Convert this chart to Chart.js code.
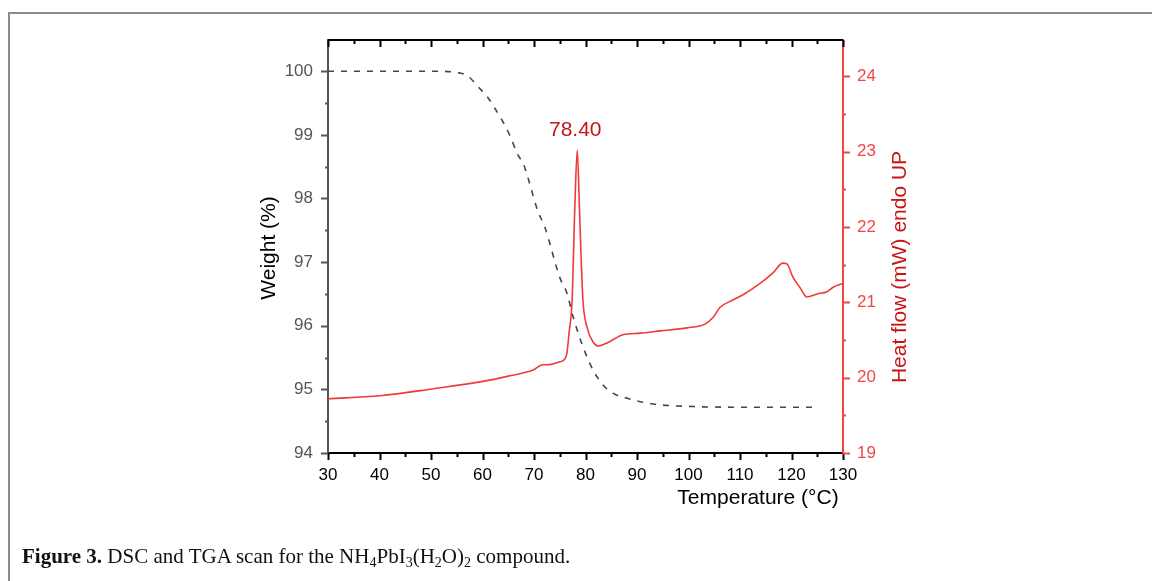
<!DOCTYPE html>
<html lang="en">
<head>
  <meta charset="UTF-8">
  <title>DSC and TGA scan</title>
  <script src="https://cdn.jsdelivr.net/npm/chart.js"></script>
  <style>
    body {
      margin: 0;
      background: white;
      overflow: hidden;
    }
    #wrap {
      position: relative;
      width: 1152px;
      height: 581px;
    }
    #frame {
      position: absolute;
      left: 8px;
      top: 12px;
      width: 1300px;
      height: 700px;
      border-left: 2px solid #8c8c8c;
      border-top: 2px solid #8c8c8c;
    }
    canvas {
      position: absolute;
      left: 0;
      top: 0;
    }
    #caption {
      position: absolute;
      left: 22px;
      top: 543px;
      font-family: "Liberation Serif", "Times New Roman", serif;
      font-size: 21px;
      line-height: 26px;
      color: #111;
      white-space: nowrap;
    }
    #caption sub {
      font-size: 14px;
      vertical-align: -4px;
      line-height: 0;
    }
  </style>
</head>
<body>

<div id="wrap">
  <div id="frame"></div>
  <canvas id="dscChart" width="1152" height="581"></canvas>
  <div id="caption"><b>Figure 3.</b> DSC and TGA scan for the NH<sub>4</sub>PbI<sub>3</sub>(H<sub>2</sub>O)<sub>2</sub> compound.</div>
</div>

<script>
  // TGA weight curve (dashed, left axis)
  const tgaTemp   = [30, 40, 50, 55.0, 57.2, 59.1, 61.1, 62.6, 64.0, 65.3, 66.9, 67.9, 70.8, 72.1, 75.0, 76.4, 77.6, 79.5, 81.5, 83.4, 85.3, 88.1, 93.1, 100.9, 110, 125.1];
  const tgaWeight = [100, 100, 100, 99.98, 99.92, 99.76, 99.58, 99.39, 99.20, 98.99, 98.68, 98.55, 97.79, 97.55, 96.76, 96.51, 96.14, 95.67, 95.30, 95.07, 94.94, 94.86, 94.77, 94.73, 94.72, 94.72];

  // DSC heat flow curve (red, right axis)
  const dscTemp = [30, 40.1, 50.2, 60.1, 65.0, 69.8, 71.7, 72.5, 75.0, 76.0, 76.4, 76.8, 77.4, 77.9, 78.4, 78.8, 79.1, 79.5, 80.3, 81.5, 82.5, 84.2, 87.3, 90.6, 94.5, 99.7, 103.2, 104.8, 106.1, 108.6, 110.6, 113.9, 116.4, 118.3, 119.1, 120.3, 121.7, 123.0, 125.0, 126.9, 128.1, 130];
  const dscHeat = [19.72, 19.76, 19.85, 19.95, 20.02, 20.10, 20.17, 20.17, 20.21, 20.25, 20.33, 20.59, 21.03, 22.2, 23.02, 22.3, 21.69, 21.03, 20.67, 20.47, 20.42, 20.46, 20.57, 20.59, 20.62, 20.66, 20.71, 20.80, 20.93, 21.03, 21.10, 21.25, 21.39, 21.52, 21.51, 21.33, 21.19, 21.07, 21.11, 21.14, 21.20, 21.25];

  // ticks
  const tempTicks   = [30, 40, 50, 60, 70, 80, 90, 100, 110, 120, 130];
  const weightTicks = [94, 95, 96, 97, 98, 99, 100];
  const heatTicks   = [19, 20, 21, 22, 23, 24];

  const peakTemp = 78.4;
  const peakHeat = 23.02;
  const peakLabel = "78.40";

  const redLine = "#f03a3a";
  const redTick = "#f04646";
  const darkRed = "#c81414";

  function toPoints(xs, ys) {
    return xs.map((x, i) => ({ x: x, y: ys[i] }));
  }

  function fixedTicks(list) {
    return function (scale) {
      scale.ticks = list.map(v => ({ value: v }));
    };
  }

  // minor/major tick marks, top frame line, titles and peak label
  const decorPlugin = {
    id: "decor",
    afterDraw(chart) {
      const ctx = chart.ctx;
      const area = chart.chartArea;
      const sx = chart.scales.x;
      const sl = chart.scales.y;
      const sr = chart.scales.y1;
      ctx.save();

      // top axis line
      ctx.strokeStyle = "#000";
      ctx.lineWidth = 2;
      ctx.beginPath();
      ctx.moveTo(area.left, area.top);
      ctx.lineTo(area.right, area.top);
      ctx.stroke();

      // x ticks: bottom outward, top inward
      for (let t = 30; t <= 130; t += 5) {
        const px = Math.round(sx.getPixelForValue(t)) + 0.5;
        const len = (t % 10 === 0) ? 7 : 4;
        ctx.lineWidth = 2;
        ctx.strokeStyle = "#000";
        ctx.beginPath();
        ctx.moveTo(px, area.bottom);
        ctx.lineTo(px, area.bottom + len);
        ctx.moveTo(px, area.top);
        ctx.lineTo(px, area.top + len);
        ctx.stroke();
      }

      // left ticks
      ctx.strokeStyle = "#555";
      for (let v = 94; v <= 100.01; v += 0.5) {
        const py = Math.round(sl.getPixelForValue(v)) + 0.5;
        const len = (Math.abs(v - Math.round(v)) < 0.01) ? 7 : 3;
        ctx.beginPath();
        ctx.moveTo(area.left, py);
        ctx.lineTo(area.left - len, py);
        ctx.stroke();
      }

      // right ticks
      ctx.strokeStyle = redTick;
      for (let v = 19; v <= 24.01; v += 0.5) {
        const py = Math.round(sr.getPixelForValue(v)) + 0.5;
        const len = (Math.abs(v - Math.round(v)) < 0.01) ? 7 : 3;
        ctx.beginPath();
        ctx.moveTo(area.right, py);
        ctx.lineTo(area.right + len, py);
        ctx.stroke();
      }

      // axis titles
      ctx.font = '21px "Liberation Sans", Arial, sans-serif';
      ctx.textAlign = "center";
      ctx.textBaseline = "middle";
      ctx.fillStyle = "#000";
      ctx.fillText("Temperature (\u00B0C)", 758, 498);

      ctx.save();
      ctx.translate(269, 248);
      ctx.rotate(-Math.PI / 2);
      ctx.fillText("Weight (%)", 0, 0);
      ctx.restore();

      ctx.save();
      ctx.translate(900, 267);
      ctx.rotate(-Math.PI / 2);
      ctx.fillStyle = darkRed;
      ctx.fillText("Heat flow (mW) endo UP", 0, 0);
      ctx.restore();

      // peak label
      ctx.fillStyle = darkRed;
      ctx.font = '21px "Liberation Sans", Arial, sans-serif';
      ctx.fillText(peakLabel, sx.getPixelForValue(peakTemp) - 2, sr.getPixelForValue(peakHeat) - 20);

      ctx.restore();
    }
  };

  const tickFont = { family: '"Liberation Sans", Arial, sans-serif', size: 17 };

  new Chart(document.getElementById("dscChart"), {
    type: "line",
    data: {
      datasets: [
        {
          label: "Weight",
          data: toPoints(tgaTemp, tgaWeight),
          yAxisID: "y",
          borderColor: "#474747",
          borderWidth: 1.6,
          borderDash: [6, 7],
          pointRadius: 0,
          cubicInterpolationMode: "monotone",
          fill: false
        },
        {
          label: "Heat flow",
          data: toPoints(dscTemp, dscHeat),
          yAxisID: "y1",
          borderColor: redLine,
          borderWidth: 1.6,
          pointRadius: 0,
          cubicInterpolationMode: "monotone",
          fill: false
        }
      ]
    },
    options: {
      responsive: false,
      animation: false,
      events: [],
      layout: { padding: { top: 40, left: 0, right: 0, bottom: 0 } },
      plugins: {
        legend: { display: false },
        tooltip: { enabled: false }
      },
      scales: {
        x: {
          type: "linear",
          min: 30,
          max: 130,
          afterBuildTicks: fixedTicks(tempTicks),
          afterFit(scale) { scale.height = 128; },
          grid: { display: false, drawTicks: false },
          border: { display: true, color: "#000", width: 2 },
          ticks: { color: "#000", font: tickFont, padding: 12, maxRotation: 0 }
        },
        y: {
          type: "linear",
          position: "left",
          min: 94,
          max: 100.49,
          afterBuildTicks: fixedTicks(weightTicks),
          afterFit(scale) { scale.width = 328; },
          grid: { display: false, drawTicks: false },
          border: { display: true, color: "#555", width: 2 },
          ticks: { color: "#555", font: tickFont, padding: 15 }
        },
        y1: {
          type: "linear",
          position: "right",
          min: 19,
          max: 24.48,
          afterBuildTicks: fixedTicks(heatTicks),
          afterFit(scale) { scale.width = 309; },
          grid: { display: false, drawTicks: false },
          border: { display: true, color: redTick, width: 2 },
          ticks: { color: redTick, font: tickFont, padding: 14 }
        }
      }
    },
    plugins: [decorPlugin]
  });
</script>

</body>
</html>
